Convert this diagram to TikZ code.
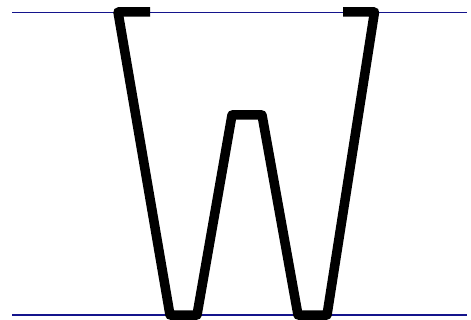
\documentclass[tikz,border=0pt]{standalone}
\tikzset{guide/.style={draw={rgb,255:red,20;green,20;blue,140}, line width=1.5pt},
  stroke/.style={draw=black, line width=9.5pt, line join=round}}
\begin{document}
\begin{tikzpicture}[x=1pt,y=-1pt]
\useasboundingbox (0,0) rectangle (471,320);
\draw[guide] (12,12.3) -- (466.5,12.3);
\draw[guide] (12,315) -- (466.5,315);
\draw[stroke] (150,12) -- (118,12) -- (170,315) -- (197,315) -- (232,115) -- (262,115) -- (298,315) -- (327,315) -- (374.5,12) -- (343,12);
\end{tikzpicture}
\end{document}
